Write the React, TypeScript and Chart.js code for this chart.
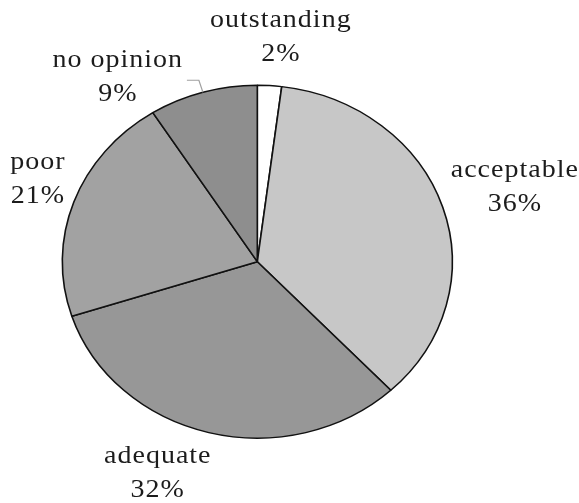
import React, { useEffect, useRef } from "react";
import { Chart, registerables } from "chart.js";

Chart.register(...registerables);

const categories = ["outstanding", "acceptable", "adequate", "poor", "no opinion"];
const percentages = [2, 36, 32, 21, 9];
const sliceColors = ["#ffffff", "#c7c7c7", "#979797", "#a2a2a2", "#8e8e8e"];

// label placement (style only): offset from pie centre in units of radius
const labelOffsets = [
  [0.118, -1.205],
  [1.318, -0.436],
  [-0.513, 1.031],
  [-1.128, -0.477],
  [-0.718, -1.0],
];
const hasLeader = [false, false, false, false, true];
const SCALE_Y = 0.905;
const RADIUS = 195;

const squashPlugin = {
  id: "squash",
  beforeDatasetsDraw(chart: any) {
    const arc = chart.getDatasetMeta(0).data[0];
    if (!arc) return;
    const ctx = chart.ctx;
    ctx.save();
    ctx.translate(arc.x, arc.y);
    ctx.scale(1, SCALE_Y);
    ctx.translate(-arc.x, -arc.y);
  },
  afterDatasetsDraw(chart: any) {
    chart.ctx.restore();
  },
};

const labelPlugin = {
  id: "sliceLabels",
  afterDraw(chart: any) {
    const ctx = chart.ctx;
    const meta = chart.getDatasetMeta(0);
    const labels = chart.data.labels;
    const values = chart.data.datasets[0].data;
    meta.data.forEach((arc: any, i: number) => {
      const { x, y, startAngle, endAngle, outerRadius } = arc.getProps(
        ["x", "y", "startAngle", "endAngle", "outerRadius"],
        true
      );
      const r = outerRadius;
      const lx = x + labelOffsets[i][0] * r;
      const ly = y + labelOffsets[i][1] * r;
      ctx.save();
      ctx.translate(lx, ly);
      ctx.scale(1, SCALE_Y);
      ctx.fillStyle = "#1c1c1c";
      ctx.font = '28px "Liberation Serif", "Times New Roman", serif';
      (ctx as any).letterSpacing = "1px";
      ctx.textAlign = "center";
      ctx.textBaseline = "alphabetic";
      ctx.fillText(String(labels[i]), 0.5, 0);
      ctx.fillText(values[i] + "%", 0.5, 34 / SCALE_Y);
      ctx.restore();
      if (hasLeader[i]) {
        const mid = (startAngle + endAngle) / 2;
        const ex = x + Math.cos(mid) * r;
        const ey = y + Math.sin(mid) * r * SCALE_Y;
        ctx.save();
        ctx.strokeStyle = "#a0a0a0";
        ctx.lineWidth = 1.2;
        ctx.beginPath();
        ctx.moveTo(ex, ey);
        ctx.lineTo(ex - 4, ey - 12);
        ctx.lineTo(ex - 16, ey - 12);
        ctx.stroke();
        ctx.restore();
      }
    });
  },
};

export default function App() {
  const canvasRef = useRef<HTMLCanvasElement | null>(null);

  useEffect(() => {
    if (!canvasRef.current) return;
    const chart = new Chart(canvasRef.current, {
      type: "pie",
      data: {
        labels: categories,
        datasets: [
          {
            data: percentages,
            backgroundColor: sliceColors,
            borderColor: "#111111",
            borderWidth: 1.6,
          },
        ],
      },
      options: {
        responsive: false,
        animation: false,
        devicePixelRatio: 1,
        radius: RADIUS,
        layout: { padding: { left: 0, right: 64.4, top: 20.4, bottom: 0 } },
        plugins: {
          legend: { display: false },
          tooltip: { enabled: false },
        },
      } as any,
      plugins: [squashPlugin, labelPlugin],
    });
    return () => chart.destroy();
  }, []);

  return (
    <div style={{ position: "fixed", left: 0, top: 0, width: 579, height: 503, background: "#fff" }}>
      <canvas ref={canvasRef} width={579} height={503} style={{ width: 579, height: 503 }} />
    </div>
  );
}
